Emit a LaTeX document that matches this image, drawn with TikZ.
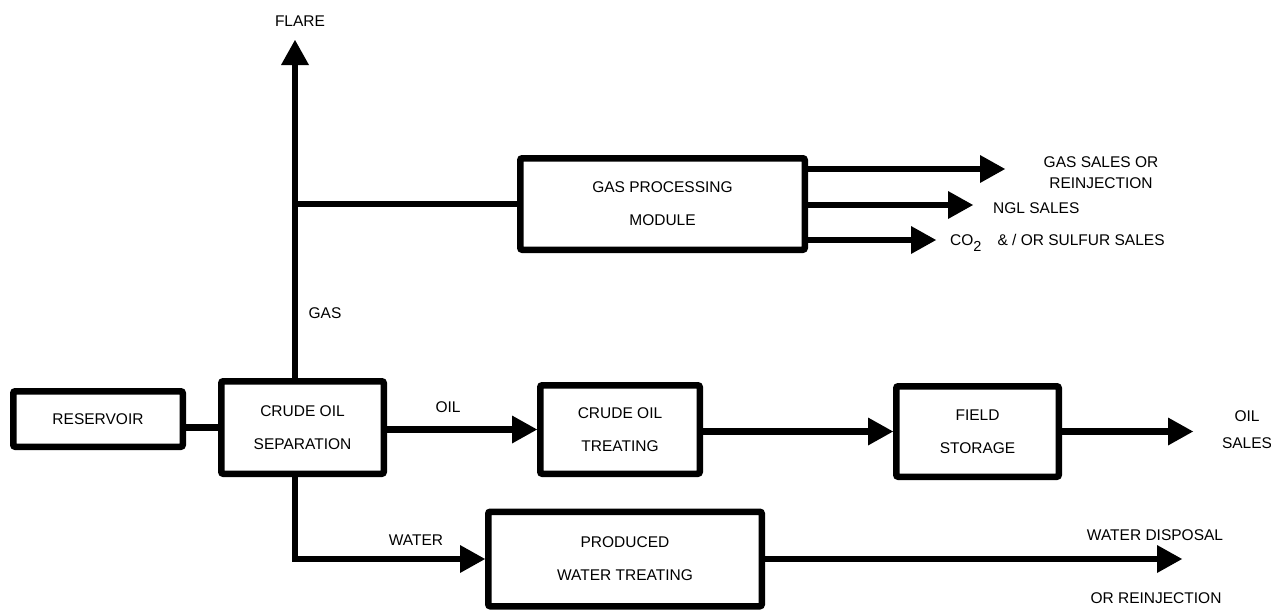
\documentclass[tikz,border=0pt]{standalone}
\usepackage{fontspec}
\setmainfont{Liberation Sans}
\usetikzlibrary{arrows.meta}
\begin{document}
\begin{tikzpicture}[x=1pt,y=-1pt,
  every node/.style={font=\fontsize{15.5}{33}\selectfont},
  unit/.style={draw, line width=6.5pt, rounded corners=2pt, inner sep=0pt, align=center},
  pipe/.style={line width=6.5pt},
  flow/.style={pipe, -{Triangle[length=25pt,width=28pt,line width=0pt]}},
  lbl/.style={inner sep=0pt, align=center}]
\useasboundingbox (0,0) rectangle (1271,613);
\fill[white] (0,0) rectangle (1271,613);

% process units
\node[unit, minimum width=169.5pt, minimum height=55.5pt] (res) at (98,419) {RESERVOIR};
\node[unit, minimum width=162.5pt, minimum height=92.5pt] (sep) at (302.5,427.5) {CRUDE OIL\\SEPARATION};
\node[unit, minimum width=284.5pt, minimum height=91.5pt] (gpm) at (662.5,204) {GAS PROCESSING\\MODULE};
\node[unit, minimum width=159.5pt, minimum height=88.5pt] (cot) at (620,429.5) {CRUDE OIL\\TREATING};
\node[unit, minimum width=162.5pt, minimum height=90.5pt] (fs) at (977.5,431.5) {FIELD\\STORAGE};
\node[unit, minimum width=273.5pt, minimum height=94.5pt] (pwt) at (625,559) {PRODUCED\\WATER TREATING};

% stream labels
\node[lbl] (flarelbl) at (300,21) {FLARE};
\node[lbl] (gaslbl) at (325,313) {GAS};
\node[lbl] (oillbl) at (448,407) {OIL};
\node[lbl] (waterlbl) at (416,540) {WATER};
\node[lbl, font=\fontsize{15.5}{21}\selectfont] (gassales) at (1101,172.5) {GAS SALES OR\\REINJECTION};
\node[lbl, anchor=west] (ngl) at (993,208) {NGL SALES};
\node[lbl, anchor=base west] (co2) at (950,245.5) {CO\raisebox{-6pt}{\fontsize{14.5}{14.5}\selectfont 2}\hspace{16pt}\& / OR SULFUR SALES};
\node[lbl, font=\fontsize{15.5}{27}\selectfont] (oilsales) at (1247,429.5) {OIL\\SALES};
\node[lbl] (wdisp) at (1155,535) {WATER DISPOSAL};
\node[lbl] (wreinj) at (1156,598) {OR REINJECTION};

% arrow end points
\coordinate (flaretip) at (295,40);
\coordinate (gstip) at (1005,169);
\coordinate (ngltip) at (973,205);
\coordinate (co2tip) at (936,240);
\coordinate (oiltip) at (1193,0);
\coordinate (wdtip) at (1182,0);

% connectors
\draw[pipe] (sep.west -| res.east) -- (sep.west);
\draw[flow] (sep.north -| flaretip) -- (flaretip);
\draw[pipe] (gpm.west -| flaretip) -- (gpm.west);
\draw[flow] (gpm.east |- gstip) -- (gstip);
\draw[flow] (gpm.east |- ngltip) -- (ngltip);
\draw[flow] (gpm.east |- co2tip) -- (co2tip);
\draw[flow] (cot.west -| sep.east) -- (cot.west);
\draw[flow] (fs.west -| cot.east) -- (fs.west);
\draw[flow] (fs.east) -- (fs.east -| oiltip);
\draw[flow] (sep.south -| flaretip) |- (pwt.west);
\draw[flow] (pwt.east) -- (pwt.east -| wdtip);
\end{tikzpicture}
\end{document}
